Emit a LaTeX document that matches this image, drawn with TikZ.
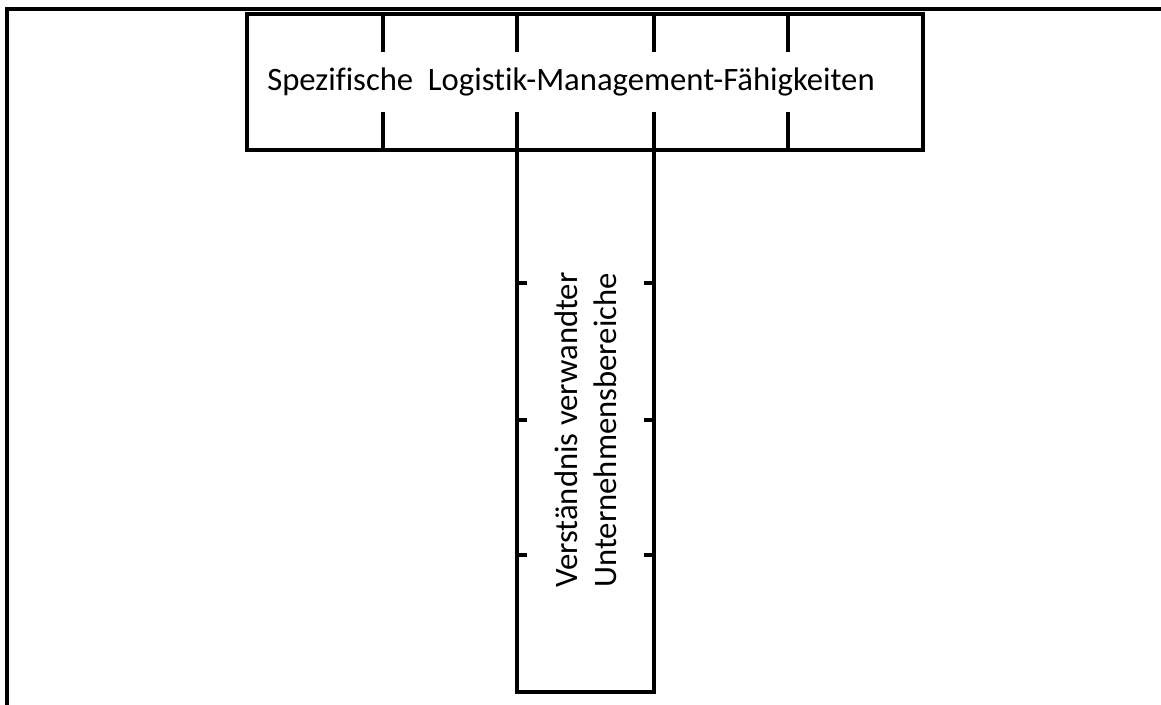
\documentclass[tikz,border=0pt]{standalone}
\usepackage{fontspec}
\setmainfont[Ligatures=NoCommon]{Carlito}
\usepackage{tikz}
\tikzstyle{outline}=[draw=black,line width=2.3pt]
\tikzstyle{frameline}=[draw=black,line width=2pt]
\tikzstyle{tick}=[draw=black,line width=1.8pt]
\tikzstyle{lbl}=[inner sep=0pt,font=\fontsize{18.6}{22.5}\selectfont]

\begin{document}
\begin{tikzpicture}[x=0.02cm,y=-0.02cm]
    \useasboundingbox (0,0) rectangle (1161,705);
    % frame
    \coordinate (fb) at (7,705);
    \coordinate (fc) at (7,9);
    \coordinate (fr) at (1161,9);
    \draw[frameline] (fb) -- (fc) -- (fr);
    % the T
    \draw[outline] (247,14) rectangle (923,150);
    \draw[outline] (517,150) rectangle (654,692);
    % ticks in the bar
    \draw[tick] (383,14) -- (383,52);
    \draw[tick] (517,14) -- (517,52);
    \draw[tick] (654,14) -- (654,52);
    \draw[tick] (788,14) -- (788,52);
    \draw[tick] (383,112) -- (383,150);
    \draw[tick] (517,112) -- (517,150);
    \draw[tick] (654,112) -- (654,150);
    \draw[tick] (788,112) -- (788,150);
    % ticks in the column
    \draw[tick] (517,283) -- (527,283);
    \draw[tick] (517,420) -- (527,420);
    \draw[tick] (517,555) -- (527,555);
    \draw[tick] (644,283) -- (654,283);
    \draw[tick] (644,420) -- (654,420);
    \draw[tick] (644,555) -- (654,555);
    % labels
    \node[style=lbl] (skills) at (571,82) {Spezifische\hspace{0.45em}Logistik-Management-Fähigkeiten};
    \node[style=lbl,rotate=90,align=left] (areas) at (586,430) {Verständnis verwandter\\Unternehmensbereiche};
\end{tikzpicture}
\end{document}
